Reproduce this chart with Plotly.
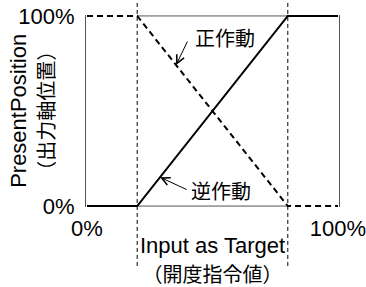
import plotly.graph_objects as go

# ---- data ----
input_pct = [0, 20, 80, 100]          # Input as Target (%)
forward_pos = [0, 0, 100, 100]        # 正作動
reverse_pos = [100, 100, 0, 0]        # 逆作動
guide_x = [20, 80]                    # dead-band guides
tick_vals = [0, 100]
tick_text = ["0%", "100%"]

LAT = "Liberation Sans, Arial, Noto Sans CJK JP"
CJK = "Noto Sans CJK JP, Liberation Sans"

fig = go.Figure()
fig.add_trace(go.Scatter(x=input_pct, y=reverse_pos, mode="lines",
                         line=dict(color="black", width=2, dash="6px,4px"),
                         showlegend=False, hoverinfo="skip"))
fig.add_trace(go.Scatter(x=input_pct, y=forward_pos, mode="lines",
                         line=dict(color="black", width=2),
                         showlegend=False, hoverinfo="skip"))

shapes = []
for gx in guide_x:
    shapes.append(dict(type="line", xref="x", yref="paper", x0=gx, x1=gx,
                       y0=-0.307, y1=1.078,
                       line=dict(color="black", width=1, dash="4px,3px")))
for yy in tick_vals:
    shapes.append(dict(type="line", xref="x", yref="y", x0=guide_x[0], x1=guide_x[1],
                       y0=yy, y1=yy, layer="below",
                       line=dict(color="#555", width=1)))

def head_on(xv, ys):
    for i in range(len(input_pct) - 1):
        x0, x1 = input_pct[i], input_pct[i + 1]
        if x0 <= xv <= x1:
            return ys[i] + (ys[i + 1] - ys[i]) * (xv - x0) / (x1 - x0)
    return ys[-1]

annotations = [
    dict(x=55, y=88.5, xref="x", yref="y", text="正作動", showarrow=False,
         font=dict(family=CJK, size=20, color="black"), xanchor="center", yanchor="middle"),
    dict(x=53.4, y=8, xref="x", yref="y", text="逆作動", showarrow=False,
         font=dict(family=CJK, size=20, color="black"), xanchor="center", yanchor="middle"),
    dict(x=35.5, y=head_on(35.5, reverse_pos), xref="x", yref="y", text="",
         showarrow=True, arrowhead=5, arrowsize=1.6, arrowwidth=1, arrowcolor="black",
         ax=12, ay=-25, standoff=0),
    dict(x=29.1, y=head_on(29.1, forward_pos), xref="x", yref="y", text="",
         showarrow=True, arrowhead=5, arrowsize=1.6, arrowwidth=1, arrowcolor="black",
         ax=28, ay=13, standoff=0),
    dict(x=0.5, y=-0.28, xref="paper", yref="paper", showarrow=False,
         text="<span style='font-family:Liberation Sans, Arial;font-size:22px'>Input as Target</span><br>"
              "<span style='font-family:Noto Sans CJK JP;font-size:20px'>（開度指令値）</span>",
         font=dict(family=LAT, size=22, color="black"), xanchor="center", yanchor="middle"),
    dict(x=-0.21, y=0.5, xref="paper", yref="paper", showarrow=False, textangle=-90,
         text="<span style='font-family:Liberation Sans, Arial;font-size:22px'>PresentPosition</span><br>"
              "<span style='font-family:Noto Sans CJK JP;font-size:20px'>（出力軸位置）</span>",
         font=dict(family=LAT, size=22, color="black"), xanchor="center", yanchor="middle"),
]

fig.update_layout(
    width=366, height=287,
    margin=dict(l=86, r=27, t=15, b=80, pad=0),
    paper_bgcolor="white", plot_bgcolor="white",
    shapes=shapes, annotations=annotations,
    font=dict(family=LAT, size=22, color="black"),
    xaxis=dict(range=[-0.4, 100.4], tickvals=tick_vals, ticktext=tick_text,
               showgrid=False, zeroline=False, showline=False, ticks="",
               ticklabelstandoff=6, ticklabeloverflow="allow", automargin=False,
               fixedrange=True),
    yaxis=dict(range=[-0.5, 100.5], tickvals=tick_vals, ticktext=tick_text,
               showgrid=False, zeroline=False, showline=True, mirror=True,
               linecolor="#555", linewidth=1, layer="below traces", ticks="",
               ticklabelstandoff=6, ticklabeloverflow="allow", automargin=False,
               fixedrange=True),
)

fig.write_html("out.html", config={"displayModeBar": False},
               post_script="document.body.style.margin='0';document.body.style.padding='0';")
